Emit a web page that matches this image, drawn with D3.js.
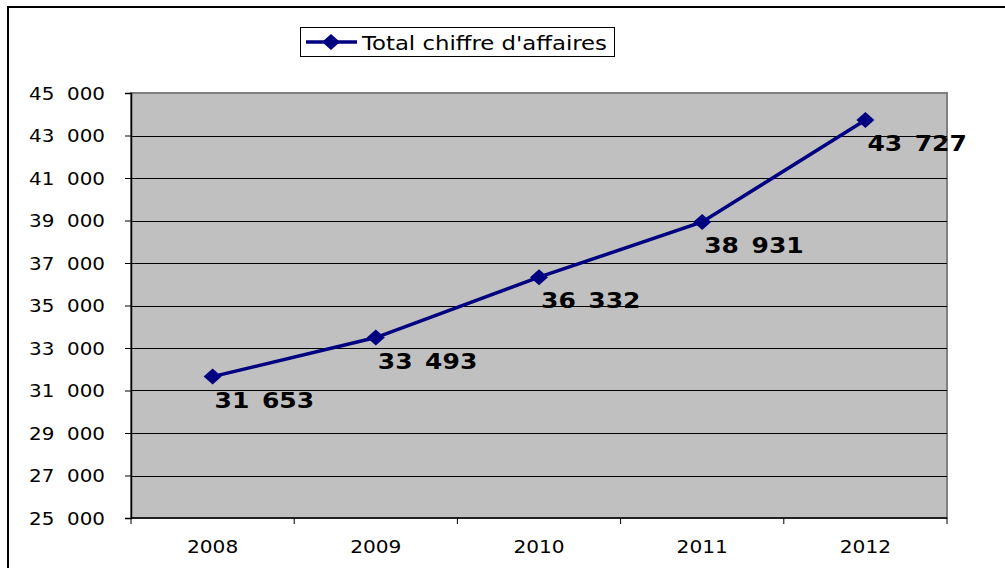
<!DOCTYPE html>
<html><head><meta charset="utf-8">
<script src="https://cdn.jsdelivr.net/npm/d3@7"></script>
<style>
html,body{margin:0;padding:0;background:#fff;}
svg{display:block;font-family:"DejaVu Sans",Verdana,sans-serif;}
</style></head>
<body>
<svg id="chart" width="1005" height="568"></svg>
<script>
const categories = ["2008","2009","2010","2011","2012"];
const values = [31653, 33493, 36332, 38931, 43727];
const dataLabels = ["31 653","33 493","36 332","38 931","43 727"];
const yTicks = [25000,27000,29000,31000,33000,35000,37000,39000,41000,43000,45000];
const seriesName = "Total chiffre d'affaires";

const svg = d3.select("#chart");
const m = {left:131, right:947, top:93, bottom:518};
const navy = "#000080";
const SX = 1.15;

// outer border
svg.append("rect").attr("x",8).attr("y",7).attr("width",1010).attr("height",600)
  .attr("fill","#fff").attr("stroke","#000").attr("stroke-width",2);

const x = d3.scaleBand().domain(categories).range([m.left, m.right]).padding(0);
const y = d3.scaleLinear().domain([25000,45000]).range([m.bottom, m.top]);

// plot area
svg.append("rect").attr("x",m.left).attr("y",m.top).attr("width",m.right-m.left).attr("height",m.bottom-m.top)
  .attr("fill","#c0c0c0").attr("stroke","#808080").attr("stroke-width",2);

// gridlines
svg.append("g").selectAll("line").data(yTicks.filter(t=>t>25000 && t<45000)).join("line")
  .attr("x1",m.left).attr("x2",m.right).attr("y1",d=>Math.round(y(d))+0.5).attr("y2",d=>Math.round(y(d))+0.5)
  .attr("stroke","#000").attr("stroke-width",1);

const fmt = d => d3.format(",")(d).replace(/,/g,"\u2007");

// y axis
const yAxis = d3.axisLeft(y).tickValues(yTicks).tickSize(6).tickPadding(0).tickFormat(fmt);
const gy = svg.append("g").attr("transform",`translate(${m.left},0)`).call(yAxis);
gy.select(".domain").attr("stroke","#000").attr("stroke-width",1.5);
gy.selectAll(".tick line").attr("stroke","#000");
gy.selectAll(".tick text").attr("x",null)
  .attr("font-size",17.3).attr("fill","#000").attr("font-family","DejaVu Sans")
  .attr("text-anchor","end").attr("dy","0.36em")
  .attr("transform",`translate(-26,0) scale(${SX},1)`);

// x axis
const gx = svg.append("g").attr("transform",`translate(0,${m.bottom})`);
gx.append("line").attr("x1",m.left).attr("x2",m.right).attr("y1",0).attr("y2",0).attr("stroke","#000").attr("stroke-width",1.5);
const bounds = categories.map(c=>x(c)).concat([m.right]);
gx.selectAll("line.tk").data(bounds).join("line").attr("class","tk")
  .attr("x1",d=>d).attr("x2",d=>d).attr("y1",0).attr("y2",6).attr("stroke","#000");
gx.selectAll("text").data(categories).join("text")
  .attr("transform",d=>`translate(${x(d)+x.bandwidth()/2},35) scale(${SX},1)`)
  .attr("text-anchor","middle").attr("font-size",17.5).attr("fill","#000").text(d=>d);

// line
const pts = categories.map((c,i)=>[x(c)+x.bandwidth()/2, y(values[i])]);
svg.append("path").attr("d", d3.line()(pts)).attr("fill","none").attr("stroke",navy).attr("stroke-width",3.5);

const diamond = (cx,cy)=>`M${cx},${cy-8}L${cx+9},${cy}L${cx},${cy+8}L${cx-9},${cy}Z`;
svg.append("g").selectAll("path").data(pts).join("path")
  .attr("d",d=>diamond(d[0],d[1])).attr("fill",navy);

// data labels
svg.append("g").selectAll("text").data(pts).join("text")
  .attr("transform",d=>`translate(${d[0]+2},${d[1]+31}) scale(1.22,1)`)
  .attr("font-size",20.5).attr("font-weight","bold").attr("fill","#000")
  .text((d,i)=>dataLabels[i].replace(" ","\u2002"));

// legend
const lg = svg.append("g");
lg.append("rect").attr("x",300.5).attr("y",27.5).attr("width",314).attr("height",29)
  .attr("fill","#fff").attr("stroke","#000").attr("stroke-width",1);
lg.append("line").attr("x1",306).attr("x2",357).attr("y1",42).attr("y2",42).attr("stroke",navy).attr("stroke-width",3.5);
lg.append("path").attr("d",diamond(331,42)).attr("fill",navy);
lg.append("text").attr("transform",`translate(362,50) scale(1.2,1)`)
  .attr("font-size",19).attr("fill","#000").text(seriesName);
</script>
</body></html>
